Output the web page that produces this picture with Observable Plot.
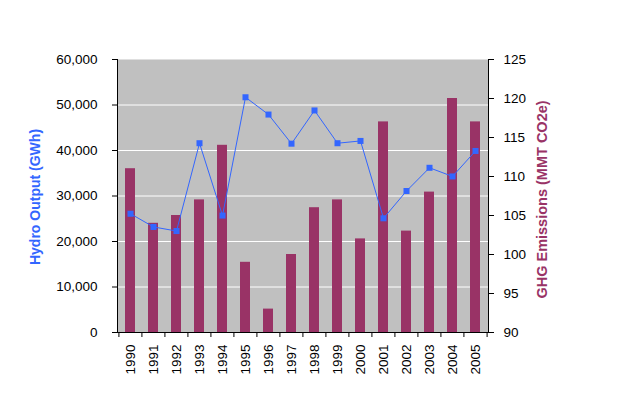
<!DOCTYPE html>
<html><head><meta charset="utf-8">
<script src="https://cdn.jsdelivr.net/npm/d3@7"></script>
<script src="https://cdn.jsdelivr.net/npm/@observablehq/plot@0.6"></script>
<style>body{margin:0;background:#fff} svg{display:block}</style>
</head><body><div id="chart"></div>
<script>
const years = ["1990","1991","1992","1993","1994","1995","1996","1997","1998","1999","2000","2001","2002","2003","2004","2005"];
const hydro = [26100,23200,22300,41600,25700,51700,47900,41500,48800,41600,42100,25100,31100,36200,34300,39900];
const ghg = [111,104,105,107,114,99,93,100,106,107,102,117,103,108,120,117];
const leftTicks = [0,10000,20000,30000,40000,50000,60000];
const rightTicks = [90,95,100,105,110,115,120,125];
const leftTitle = "Hydro Output (GWh)";
const rightTitle = "GHG Emissions (MMT CO2e)";

const data = years.map((year, i) => ({year, hydro: hydro[i], ghg: ghg[i]}));
const W = 622, H = 395, mL = 117, mR = 134, mT = 59, mB = 63;
const step = (W - mL - mR) / years.length;
// right-axis (GHG) values mapped onto the left-axis (hydro) domain
const g2h = d3.scaleLinear().domain([90, 125]).range([0, 60000]);

const chart = Plot.plot({
  width: W, height: H,
  marginLeft: mL, marginRight: mR, marginTop: mT, marginBottom: mB,
  style: {fontFamily: "'Liberation Sans', Arial, sans-serif", fontSize: "13px", color: "#000", background: "#fff"},
  x: {type: "band", domain: years, paddingInner: 0.56, paddingOuter: 0.28, axis: null},
  y: {domain: [0, 60000], axis: null},
  marks: [
    Plot.frame({fill: "#c0c0c0"}),
    Plot.ruleY(leftTicks.filter(t => t > 0 && t < 60000), {stroke: "#fff", strokeWidth: 1}),
    Plot.barY(data, {x: "year", y1: 0, y2: d => g2h(d.ghg), fill: "#993366"}),
    Plot.line(data, {x: "year", y: "hydro", stroke: "#3366ff", strokeWidth: 1}),
    Plot.dot(data, {x: "year", y: "hydro", symbol: "square", r: 3.4, fill: "#3366ff", stroke: null}),
    Plot.frame({anchor: "left", stroke: "#000"}),
    Plot.frame({anchor: "right", stroke: "#000"}),
    Plot.frame({anchor: "bottom", stroke: "#000"}),
    Plot.axisY(leftTicks, {anchor: "left", tickSize: 5, tickPadding: 15, tickFormat: d3.format(","), label: null, fontSize: 13.5}),
    Plot.axisY(rightTicks.map(g2h), {anchor: "right", tickSize: 5, tickPadding: 10, tickFormat: d => String(Math.round(g2h.invert(d))), label: null, fontSize: 13.5}),
    Plot.axisX({tickSize: 0, tickRotate: -90, tickPadding: 12, label: null, fontSize: 13.5}),
    Plot.ruleX(data, {x: "year", dx: -step / 2, y1: 0, y2: 0, insetBottom: -5, stroke: "#000"}),
    Plot.ruleX(data.slice(-1), {x: "year", dx: step / 2, y1: 0, y2: 0, insetBottom: -5, stroke: "#000"}),
    Plot.text([leftTitle], {frameAnchor: "left", textAnchor: "middle", dx: -82, dy: 1, rotate: -90, text: d => d, fill: "#3366ff", fontWeight: "bold", fontSize: 14, style: "letter-spacing:0.5px"}),
    Plot.text([rightTitle], {frameAnchor: "right", textAnchor: "middle", dx: 54, dy: 3.5, rotate: -90, text: d => d, fill: "#993366", fontWeight: "bold", fontSize: 14.5, style: "letter-spacing:0.75px"})
  ]
});
document.getElementById("chart").appendChild(chart);
</script>
</body></html>
